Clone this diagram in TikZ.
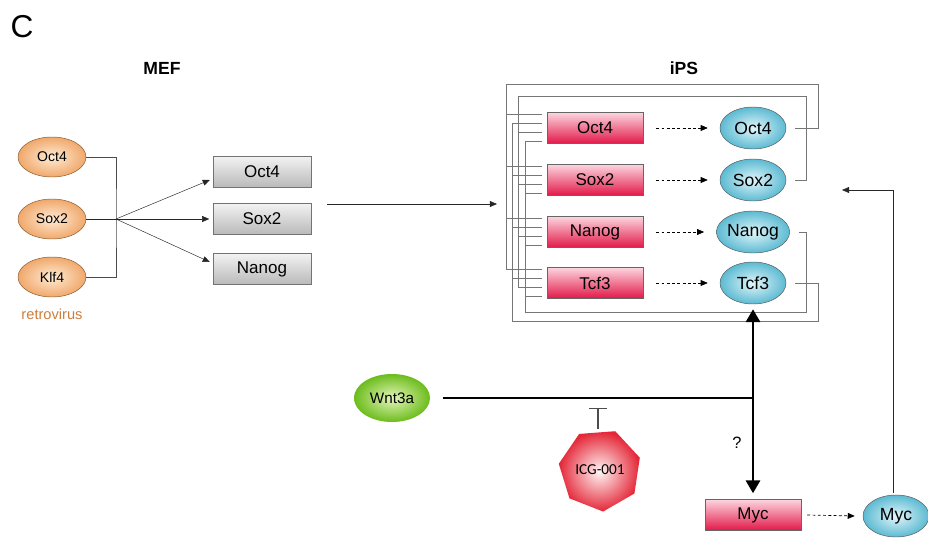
\documentclass[tikz,border=0pt]{standalone}
\usepackage{fontspec}
\setmainfont{Liberation Sans}
\newfontfamily\icgfont{Carlito}
\usetikzlibrary{positioning, arrows.meta, shapes.geometric, calc}

\definecolor{genered}{RGB}{226,24,72}
\definecolor{genepink}{RGB}{252,212,222}
\definecolor{protblue}{RGB}{92,186,210}
\definecolor{protlight}{RGB}{226,246,250}
\definecolor{rvorange}{RGB}{240,168,108}
\definecolor{rvlight}{RGB}{255,236,212}
\definecolor{rvtext}{RGB}{205,125,60}
\definecolor{wntgreen}{RGB}{108,188,28}
\definecolor{wntlight}{RGB}{228,246,186}
\definecolor{icgred}{RGB}{228,38,55}
\definecolor{loopgray}{RGB}{118,118,118}

\begin{document}
\begin{tikzpicture}[x=0.03cm, y=-0.03cm,
  gene/.style={draw=black!60, top color=genepink, bottom color=genered, minimum width=2.88cm, minimum height=0.93cm, inner sep=0pt, font=\fontsize{14.5}{16}\selectfont},
  mefbox/.style={draw=black!55, top color=gray!10, bottom color=gray!55, minimum width=2.94cm, minimum height=0.93cm, inner sep=0pt, font=\fontsize{14.5}{16}\selectfont},
  prot/.style={ellipse, draw=black!65, inner color=protlight, outer color=protblue, minimum width=1.98cm, minimum height=1.26cm, inner sep=0pt, font=\fontsize{15}{16}\selectfont},
  rv/.style={ellipse, draw=brown!70!black, inner color=rvlight, outer color=rvorange, minimum width=2.04cm, minimum height=1.2cm, inner sep=0pt, font=\fontsize{12}{14}\selectfont},
  title/.style={font=\bfseries\fontsize{15}{18}\selectfont},
  arrow/.style={-{Triangle[length=6pt,width=5pt]}, black!85},
  dasharrow/.style={dash pattern=on 2.5pt off 2pt, semithick, -{Triangle[length=6pt,width=5pt]}},
  wire/.style={loopgray, line width=0.6pt},
  fanwire/.style={black!70, line width=0.6pt},
  bold/.style={line width=2.4pt},
  boldarrow/.style={line width=2.4pt, -{Triangle[length=11pt,width=12pt]}}
]
  \useasboundingbox (0,0) rectangle (928,538);

  % labels
  \node[font=\fontsize{27}{28}\selectfont] (panel) at (22,27) {C};
  \node[title] (mef) at (162,68) {MEF};
  \node[title] (ips) at (684,68) {iPS};

  % MEF side
  \node[rv] (rvOct) at (52,157) {Oct4};
  \node[rv] (rvSox) at (52,219) {Sox2};
  \node[rv] (rvKlf) at (52,277) {Klf4};
  \node[text=rvtext, font=\fontsize{12.5}{14}\selectfont] (retro) at (52,314) {retrovirus};

  \node[mefbox] (mOct) at (262,172) {Oct4};
  \node[mefbox] (mSox) at (262,219) {Sox2};
  \node[mefbox] (mNan) at (262,269) {Nanog};

  \coordinate (hub) at (116,219);
  \draw[fanwire] (rvOct.east) -| (hub) |- (rvKlf.east);
  \draw[arrow] (hub) -- ($(mOct.west)+(-3,8)$);
  \draw[arrow, shorten >=3pt] (rvSox.east) -- (mSox.west);
  \draw[arrow] (hub) -- ($(mNan.west)+(-3,-7)$);

  \coordinate (mefout) at (327,204);
  \coordinate (ipsin) at (497,204);
  \draw[arrow] (mefout) -- (ipsin);

  % iPS side
  \node[gene] (gOct) at (595,128) {Oct4};
  \node[gene] (gSox) at (595,180) {Sox2};
  \node[gene] (gNan) at (595,232) {Nanog};
  \node[gene] (gTcf) at (595,283) {Tcf3};

  \node[prot] (pOct) at (753,128) {Oct4};
  \node[prot] (pSox) at (753,180) {Sox2};
  \node[prot] (pNan) at (753,232) {Nanog};
  \node[prot] (pTcf) at (753,283) {Tcf3};

  \draw[dasharrow] ($(gOct.east)+(13,0)$) -- ($(pOct.west)+(-12,0)$);
  \draw[dasharrow] ($(gSox.east)+(13,0)$) -- ($(pSox.west)+(-12,0)$);
  \draw[dasharrow] ($(gNan.east)+(13,0)$) -- ($(pNan.west)+(-12,0)$);
  \draw[dasharrow] ($(gTcf.east)+(13,0)$) -- ($(pTcf.west)+(-12,0)$);

  % feedback loops onto the promoters
  \coordinate (railA) at (506,84);
  \coordinate (railB) at (512,321);
  \coordinate (railC) at (518,96);
  \coordinate (railD) at (525,312);
  \draw[wire] ($(pOct.east)+(9,0)$) -| (818,84) -| (506,269.5);
  \draw[wire] ($(pSox.east)+(9,0)$) -| (806,96) -| (518,287.5);
  \draw[wire] ($(pNan.east)+(9,0)$) -| (806,312) -| (525,141.5);
  \draw[wire] ($(pTcf.east)+(9,0)$) -| (818,321) -| (512,123.5);
  \foreach \g in {gOct,gSox,gNan,gTcf}
    \foreach \r/\dy in {railA/-13.5, railB/-4.5, railC/4.5, railD/13.5}
      \draw[wire] ($(\g.west)+(-5,\dy)$) coordinate (s) -- (s -| \r);

  % Wnt pathway
  \node[ellipse, inner color=wntlight, outer color=wntgreen, minimum width=2.28cm, minimum height=1.44cm, inner sep=0pt, font=\fontsize{13}{14}\selectfont] (wnt) at (392,398) {Wnt3a};
  \node[regular polygon, regular polygon sides=7, shape border rotate=30, minimum size=2.5cm, inner sep=0pt, inner color=white!85!pink, outer color=icgred, font=\icgfont\fontsize{13}{14}\selectfont] (icg) at (600,470) {ICG-001};
  \node[gene] (gMyc) at (753,515) {Myc};
  \node[prot] (pMyc) at (896,516) {Myc};
  \node[font=\fontsize{14}{16}\selectfont] (q) at (737,443) {?};

  \coordinate (branch) at (753,398);
  \draw[bold] ($(wnt.east)+(13,0)$) -- (branch);
  \draw[boldarrow] (branch) -- ($(pTcf.south)+(0,5)$);
  \draw[boldarrow] (branch) -- ($(gMyc.north)+(0,-6)$);
  \draw[black!70, line width=1pt, -{Bar[width=0.55cm]}] ($(icg.center)+(-2,-41)$) -- ($(icg.center)+(-2,-62)$);

  \draw[dasharrow] ($(gMyc.east)+(6,0)$) -- ($(pMyc.west)+(-8,0)$);
  \coordinate (ret) at (842,190);
  \draw[arrow] ($(pMyc.north)+(-3,-2)$) |- (ret);
\end{tikzpicture}
\end{document}
